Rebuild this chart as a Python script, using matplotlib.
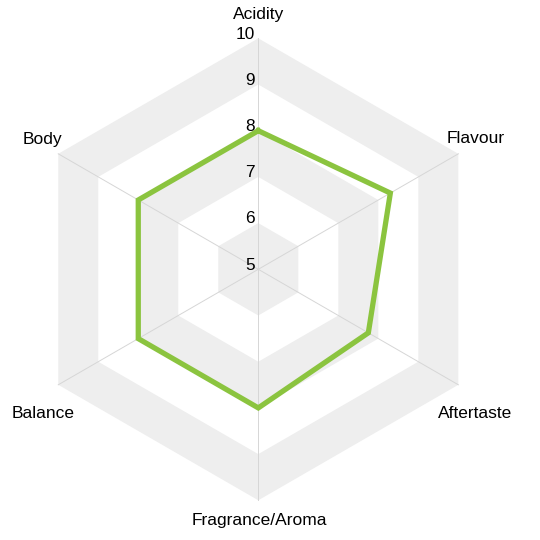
import numpy as np
import matplotlib
matplotlib.use("Agg")
import matplotlib.pyplot as plt

categories = ["Acidity", "Flavour", "Aftertaste", "Fragrance/Aroma", "Balance", "Body"]
values = [8.0, 8.3, 7.75, 8.0, 8.0, 8.0]
scale_min = 5
scale_max = 10
tick_values = [5, 6, 7, 8, 9, 10]

# label offsets (pixels) from each outer vertex: (right, down)
label_offsets_px = [(0.7, -23.5), (17.2, -15.3), (16.7, 28.5),
                    (0.7, 20.5), (-15.3, 28.5), (-15.8, -14.3)]

plt.rcParams['font.family'] = ['Liberation Sans', 'DejaVu Sans']

fig = plt.figure(figsize=(5.4, 5.4), dpi=100)
ax = fig.add_axes([0, 0, 1, 1])
ax.set_axis_off()

unit = 46.2  # px per value unit
cx, cy = 258.3, 269.3
ax.set_xlim(-cx / unit, (540 - cx) / unit)
ax.set_ylim(-(540 - cy) / unit, cy / unit)
ax.set_aspect('equal', adjustable='datalim')

n = len(categories)
theta = np.arange(n) * 2 * np.pi / n  # clockwise from top
dx = np.sin(theta)
dy = np.cos(theta)

gray = '#eeeeee'
nlev = scale_max - scale_min
for k in range(nlev, 0, -1):
    col = gray if (k % 2 == 1) else 'white'
    ax.fill(k * dx, k * dy, color=col, lw=0, zorder=1)

# radial grid lines
for i in range(n):
    ax.plot([0, nlev * dx[i]], [0, nlev * dy[i]], color='#d6d6d6', lw=0.7, zorder=2)

# data polygon
r = np.array(values) - scale_min
xs = np.append(r * dx, r[0] * dx[0])
ys = np.append(r * dy, r[0] * dy[0])
ax.plot(xs, ys, color='#8bc43f', lw=3.8, solid_joinstyle='miter', zorder=3)

# tick labels
for t in tick_values:
    ax.text(-0.07, (t - scale_min) + 0.09, str(t), ha='right', va='center',
            fontsize=12.4, color='#000000', zorder=4)

# category labels
for i, c in enumerate(categories):
    ox, oy = label_offsets_px[i]
    ax.annotate(c, xy=(nlev * dx[i], nlev * dy[i]), xytext=(ox * 0.72, -oy * 0.72),
                textcoords='offset points', ha='center', va='center',
                fontsize=12.5, color='#000000', zorder=4)

fig.savefig('out.png', dpi=100, facecolor='white')
